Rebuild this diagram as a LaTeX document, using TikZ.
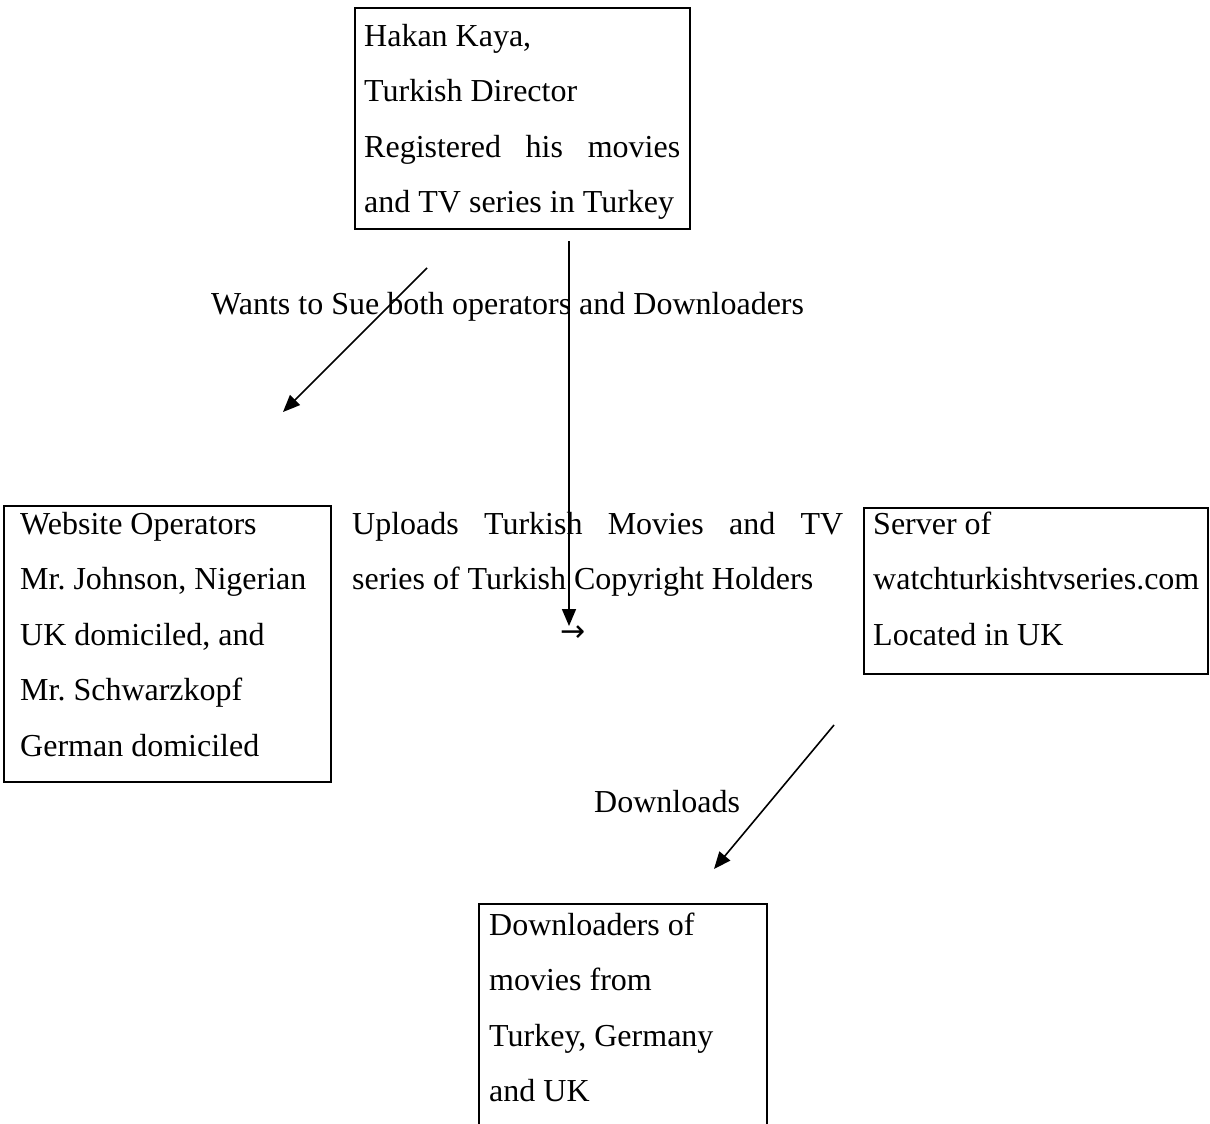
\documentclass[tikz,border=0pt]{standalone}
\usepackage{fontspec}
\setmainfont{Liberation Serif}
\newfontfamily\arrowfont{DejaVu Sans}
\usetikzlibrary{arrows.meta}
\begin{document}
\frenchspacing
\begin{tikzpicture}[x=1pt,y=-1pt,
  boxshape/.style={draw, line width=2pt, inner sep=0pt, anchor=north west},
  txt/.style={inner sep=0pt, anchor=north west, align=left, font=\fontsize{32}{55.5}\selectfont},
  lbl/.style={inner sep=0pt, anchor=base west, font=\fontsize{32}{38}\selectfont},
  arr/.style={line width=1.6pt, -{Triangle[length=17pt,width=14pt]}}]
\useasboundingbox (0,0) rectangle (1210,1124);
\clip (0,0) rectangle (1210,1124);
\fill[white] (0,0) rectangle (1210,1124);

% boxes
\node[boxshape, minimum width=335pt, minimum height=221pt] (hakanbox) at (354,7) {};
\node[boxshape, minimum width=327pt, minimum height=276pt] (opsbox) at (3,505) {};
\node[boxshape, minimum width=344pt, minimum height=166pt] (serverbox) at (863,507) {};
\node[boxshape, minimum width=288pt, minimum height=300pt] (dlbox) at (478,903) {};

% box texts
\node[txt] (hakan) at (364,22) {\rule{0pt}{24pt}Hakan Kaya,\\Turkish Director\\\hbox to 316pt{Registered\hfill his\hfill movies}\\and TV series in Turkey};
\node[txt] (ops) at (20,510) {\rule{0pt}{24pt}Website Operators\\Mr. Johnson, Nigerian\\UK domiciled, and\\Mr. Schwarzkopf\\German domiciled};
\node[txt] (uploads) at (352,510) {\rule{0pt}{24pt}\hbox to 491pt{Uploads\hfill Turkish\hfill Movies\hfill and\hfill TV}\\series of Turkish Copyright Holders};
\node[txt] (server) at (873,510) {\rule{0pt}{24pt}Server of\\watchturkishtvseries.com\\Located in UK};
\node[txt] (dl) at (489,911) {\rule{0pt}{24pt}Downloaders of\\movies from\\Turkey, Germany\\and UK};

% labels
\node[lbl] (wants) at (211,314) {Wants to Sue both operators and Downloaders};
\node[lbl] (downloads) at (594,812) {Downloads};
\node[inner sep=0pt, font=\arrowfont\fontsize{30}{36}\selectfont] (smallarrow) at (573,634) {→};

% connectors
\coordinate (s1) at (427,268); \coordinate (e1) at (283,412);
\coordinate (s2) at (569,241); \coordinate (e2) at (569,626);
\coordinate (s3) at (834,725); \coordinate (e3) at (714,869);
\draw[arr] (s1) -- (e1);
\draw[arr] (s2) -- (e2);
\draw[arr] (s3) -- (e3);
\end{tikzpicture}
\end{document}
